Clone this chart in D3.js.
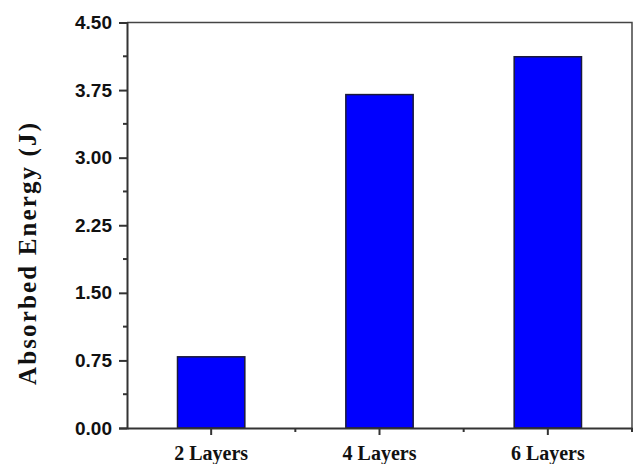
<!DOCTYPE html>
<html>
<head>
<meta charset="utf-8">
<script src="https://cdn.jsdelivr.net/npm/d3@7"></script>
<style>
  body { margin: 0; background: #fff; }
</style>
</head>
<body>
<script>
// data
var categories = ['2 Layers', '4 Layers', '6 Layers']
var energy = [0.79, 3.70, 4.12]
var yTicks = [0, 0.75, 1.5, 2.25, 3.0, 3.75, 4.5]

var margin = { top: 22.5, right: 3, bottom: 36, left: 127 },
    width = 635 - margin.left - margin.right,
    height = 464 - margin.top - margin.bottom

var x = d3.scaleBand().domain(categories).range([0, width])
    .paddingInner(0.6).paddingOuter(0.3)
var y = d3.scaleLinear().domain([0, 4.5]).range([height, 0])

var svg = d3.select('body').append('svg')
    .attr('width', 635)
    .attr('height', 464)
    .append('g')
    .attr('transform', 'translate(' + margin.left + ',' + margin.top + ')')

// bars
svg.selectAll('.bar')
    .data(energy)
    .enter().append('rect')
    .attr('x', (d, i) => x(categories[i]))
    .attr('y', d => y(d))
    .attr('width', x.bandwidth())
    .attr('height', d => height - y(d))
    .attr('fill', '#0000ff')
    .attr('stroke', '#1a1a3a')
    .attr('stroke-width', 1.5)

// frame (top and right)
svg.append('path')
    .attr('d', `M0,0H${width}V${height}`)
    .attr('fill', 'none')
    .attr('stroke', '#444')
    .attr('stroke-width', 1.5)

// y axis
var yAxis = svg.append('g')
    .call(d3.axisLeft(y).tickValues(yTicks).tickFormat(d3.format('.2f'))
        .tickSize(8).tickPadding(7))
yAxis.select('.domain').attr('stroke', '#333').attr('stroke-width', 2)
yAxis.selectAll('.tick line').attr('stroke', '#333').attr('stroke-width', 2)
yAxis.selectAll('text')
    .attr('font-family', 'Liberation Sans, Arial, sans-serif')
    .attr('font-weight', 'bold')
    .attr('font-size', 19)
    .attr('fill', '#111')

// minor y ticks
svg.selectAll('.yminor')
    .data(yTicks.slice(1).map(d => d - 0.375))
    .enter().append('line')
    .attr('x1', -4).attr('x2', 0)
    .attr('y1', d => y(d)).attr('y2', d => y(d))
    .attr('stroke', '#333').attr('stroke-width', 2)

// x axis
var xAxis = svg.append('g')
    .attr('transform', 'translate(0,' + height + ')')
    .call(d3.axisBottom(x).tickSize(7).tickPadding(11).tickSizeOuter(0))
xAxis.select('.domain').attr('stroke', '#333').attr('stroke-width', 2)
xAxis.selectAll('.tick line').attr('stroke', '#333').attr('stroke-width', 2)
xAxis.selectAll('text')
    .attr('font-family', 'Liberation Serif, Times New Roman, serif')
    .attr('font-weight', 'bold')
    .attr('font-size', 20)
    .attr('fill', '#111')

// minor x ticks between categories
var step = x.step()
svg.selectAll('.xminor')
    .data(categories)
    .enter().append('line')
    .attr('x1', d => x(d) + x.bandwidth() / 2 + step / 2)
    .attr('x2', d => x(d) + x.bandwidth() / 2 + step / 2)
    .attr('y1', height).attr('y2', height + 4)
    .attr('stroke', '#333').attr('stroke-width', 2)

// y label
svg.append('text')
    .attr('transform', 'rotate(-90)')
    .attr('x', 0 - (254 - margin.top))
    .attr('y', 36 - margin.left)
    .attr('text-anchor', 'middle')
    .attr('font-family', 'Liberation Serif, Times New Roman, serif')
    .attr('font-weight', 'bold')
    .attr('font-size', 25)
    .attr('fill', '#111')
    .attr('textLength', 262)
    .text('Absorbed Energy (J)')
</script>
</body>
</html>
